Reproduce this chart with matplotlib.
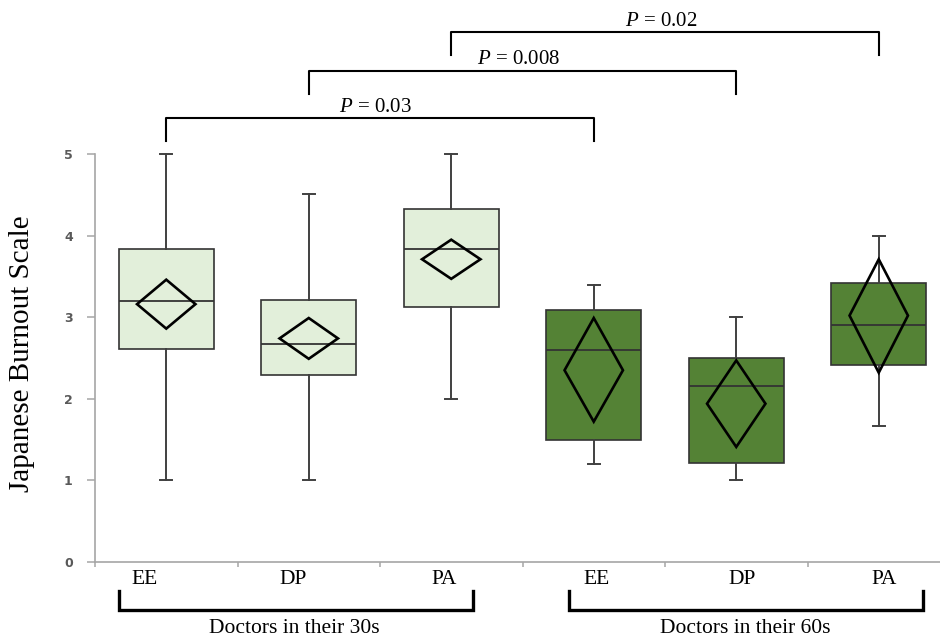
import matplotlib
matplotlib.use("Agg")
import matplotlib.pyplot as plt
from matplotlib.patches import Polygon

# ---------------- data ----------------
categories = ["EE", "DP", "PA", "EE", "DP", "PA"]
groups = ["Doctors in their 30s", "Doctors in their 60s"]
whisker_low = [1.00, 1.00, 2.00, 1.20, 1.00, 1.67]
q1 = [2.61, 2.29, 3.12, 1.50, 1.21, 2.42]
median = [3.20, 2.67, 3.84, 2.60, 2.16, 2.91]
q3 = [3.84, 3.21, 4.33, 3.09, 2.50, 3.42]
whisker_high = [5.00, 4.51, 5.00, 3.40, 3.00, 4.00]
mean = [3.16, 2.74, 3.71, 2.35, 1.94, 3.02]
diamond_low = [2.86, 2.49, 3.47, 1.72, 1.41, 2.32]
diamond_high = [3.46, 2.99, 3.95, 2.99, 2.47, 3.71]
comparisons = [(0, 3), (1, 4), (2, 5)]
p_values = ["0.03", "0.008", "0.02"]
yticks = [0, 1, 2, 3, 4, 5]

# ---------------- style ----------------
plt.rcParams["mathtext.fontset"] = "custom"
plt.rcParams["mathtext.rm"] = "Liberation Serif"
plt.rcParams["mathtext.it"] = "Liberation Serif:italic"
serif = "Liberation Serif"
light = "#e2efda"
dark = "#548235"
grey = "#a6a6a6"

fig = plt.figure(figsize=(9.4, 6.41), dpi=100)
W, H = 940, 641
ax = fig.add_axes([95 / W, (H - 562) / H, (W - 95) / W, 562 / H])

xs = list(range(len(categories)))
stats = []
for i in xs:
    stats.append(dict(med=median[i], q1=q1[i], q3=q3[i],
                      whislo=whisker_low[i], whishi=whisker_high[i], fliers=[]))

bp = ax.bxp(stats, positions=xs, widths=0.67, patch_artist=True,
            showfliers=False, capwidths=0.085,
            boxprops=dict(edgecolor="#333333", linewidth=1.2),
            medianprops=dict(color="#333333", linewidth=1.3),
            whiskerprops=dict(color="#404040", linewidth=1.4),
            capprops=dict(color="#404040", linewidth=1.4))
for i, patch in enumerate(bp["boxes"]):
    patch.set_facecolor(light if i < 3 else dark)
    patch.set_zorder(2)
for ln in bp["medians"]:
    ln.set_zorder(3)

# mean diamonds
hw = 0.205
for i in xs:
    poly = Polygon([(i, diamond_high[i]), (i + hw, mean[i]),
                    (i, diamond_low[i]), (i - hw, mean[i])],
                   closed=True, fill=False, edgecolor="black",
                   linewidth=1.9, zorder=4, joinstyle="miter")
    ax.add_patch(poly)

ax.set_xlim(-0.5, (W - 166.25) / 142.5)
ax.set_ylim(0, 562 / 81.6)

# axes styling
for s in ["top", "right"]:
    ax.spines[s].set_visible(False)
for s in ["left", "bottom"]:
    ax.spines[s].set_color(grey)
    ax.spines[s].set_linewidth(1.2)
ax.set_yticks(yticks)
ax.set_yticklabels([str(t) for t in yticks], fontsize=9, fontweight="bold",
                   color="#595959", family="DejaVu Sans")
ax.tick_params(axis="y", length=6, width=1.1, color=grey, pad=10)
ax.set_xticks([])
ax.set_xticks([i - 0.5 for i in xs], minor=True)
ax.tick_params(axis="x", which="minor", length=3.5, width=1.1, color=grey)
ax.spines["left"].set_bounds(0, 5)

# category labels
label_shift = [-0.15, -0.11, -0.05, 0.02, 0.04, 0.04]
for i in xs:
    ax.text(i + label_shift[i], -0.21, categories[i], ha="center", va="center",
            fontsize=15.5, family=serif, clip_on=False)

# group brackets
group_spans = [(-0.332, 2.156), (2.826, 5.314)]
for (a, b), g in zip(group_spans, groups):
    ax.plot([a, a, b, b], [-0.355, -0.588, -0.588, -0.355], color="black",
            linewidth=2.4, clip_on=False, solid_joinstyle="miter")
    ax.text((a + b) / 2 - 0.01, -0.82, g, ha="center", va="center",
            fontsize=15.5, family=serif, clip_on=False)

# significance brackets
bracket_y = [5.44, 6.02, 6.49]
for (a, b), p, yb in zip(comparisons, p_values, bracket_y):
    ax.plot([a, a, b, b], [yb - 0.28, yb, yb, yb - 0.28], color="black",
            linewidth=1.5, clip_on=False)
    ax.text((a + b) / 2 - 0.03, yb + 0.135, r"$P$ = " + p, ha="center",
            va="center", fontsize=15, family=serif, clip_on=False)

fig.text(22 / W, (H - 353.5) / H, "Japanese Burnout Scale", rotation=90,
         ha="center", va="center", fontsize=21, family=serif)

fig.savefig("out.png", dpi=100)
